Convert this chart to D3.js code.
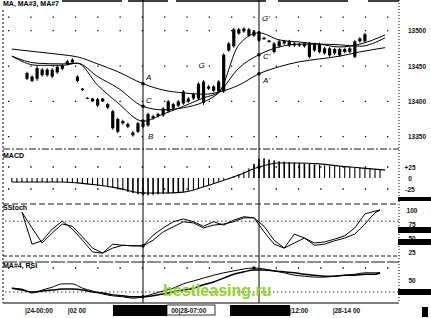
<!DOCTYPE html>
<html>
<head>
<meta charset="utf-8">
<script src="https://cdn.jsdelivr.net/npm/d3@7"></script>
<style>
  html, body { margin: 0; padding: 0; background: #fff; }
  svg { display: block; font-family: "Liberation Sans", Arial, sans-serif; }
  .lbl { font-size: 7px; font-weight: bold; fill: #000; }
  .ax text { font-size: 6.5px; font-weight: bold; fill: #111; }
  .note { font-size: 8px; fill: #000; font-style: italic; }
</style>
</head>
<body>
<div id="chart"></div>
<script>
// candles (bar index 0..67)
const high  = [13442,13437,13450,13447,13447,13447,13451,13453,13459,13461,
               13437,13419,13406,13405,13405,13405,13398,13388,13377,13374,
               13370,13358,13371,13371,13384,13381,13384,13392,13402,13398,
               13402,13416,13406,13412,13427,13430,13423,13423,13430,13468,
               13484,13504,13504,13505,13504,13501,13498,13491,13487,13484,
               13487,13487,13487,13484,13483,13484,13484,13483,13483,13477,
               13477,13476,13476,13476,13477,13487,13491,13497];
const low   = [13430,13427,13429,13435,13435,13433,13439,13444,13451,13453,
               13427,13415,13403,13399,13392,13399,13389,13360,13355,13367,
               13362,13350,13355,13362,13364,13374,13377,13378,13384,13388,
               13392,13395,13398,13402,13402,13395,13416,13413,13412,13412,
               13470,13476,13494,13497,13491,13491,13484,13487,13483,13468,
               13476,13480,13477,13477,13477,13476,13461,13470,13468,13466,
               13463,13466,13463,13468,13468,13461,13483,13483];
const open  = [13440,13435,13432,13445,13437,13445,13441,13446,13453,13455,
               13435,13418,13405,13404,13403,13404,13396,13386,13375,13372,
               13368,13356,13357,13364,13366,13376,13379,13380,13386,13390,
               13394,13397,13400,13404,13404,13398,13418,13415,13414,13414,
               13472,13478,13496,13499,13502,13499,13496,13490,13486,13482,
               13478,13485,13479,13482,13481,13478,13482,13472,13481,13468,
               13475,13468,13474,13470,13470,13463,13485,13485];
const close = [13432,13429,13447,13437,13445,13435,13449,13451,13457,13459,
               13429,13416,13404,13400,13394,13400,13391,13362,13357,13369,
               13364,13352,13369,13369,13382,13379,13382,13390,13400,13396,
               13400,13414,13404,13410,13425,13428,13421,13421,13428,13466,
               13482,13502,13502,13503,13493,13493,13486,13488,13484,13470,
               13485,13482,13485,13479,13479,13482,13463,13481,13470,13475,
               13465,13474,13465,13474,13475,13485,13489,13495];

// moving averages, read at these bar indices
const maIdx  = [-3, 2, 7, 10, 14, 18, 23, 27, 31, 35, 38, 42, 46, 50, 54, 58, 62, 66, 71];
const maSlow = [13474,13470,13466,13463,13453,13442,13425,13416,13412,13410,13413,13423,13439,13449,13456,13460,13464,13470,13476];
const maMid  = [13464,13454,13453,13454,13435,13419,13393,13388,13391,13399,13412,13447,13466,13477,13481,13481,13480,13478,13490];
const maFast = [13464,13451,13451,13454,13423,13398,13372,13382,13393,13405,13413,13480,13497,13487,13484,13481,13477,13481,13494];

// MACD histogram, one bar per index from -3 to 70
const macdFirst = -3;
const macdBars = [-9,-10,-9,-10,-9,-10,-9,-10,-9,-10,-9,-10,-10,-11,
                  -13,-14,-16,-18,-19,-21,-23,-26,-28,-31,-34,-37,-39,
                  -39,-38,-37,-36,-35,-34,-33,-31,-29,-27,-24,-21,
                  -16,-12,-8,-4,0,4,
                  9,15,22,32,44,45,42,
                  40,38,37,36,35,34,33,32,31,30,29,28,27,27,26,25,24,23,22,21,20,19];
const macdLine = [-9,-9,-9,-11,-16,-23,-34,-34,-32,-20,-9,7,25,34,34,32,27,23,18];

// stochastic and RSI, read every second bar
const oscIdx = [-3,-1,1,3,5,7,9,11,13,15,17,19,21,23,25,27,29,31,33,35,37,39,41,43,45,47,49,51,53,55,57,59,61,63,65,67,69,70];
const stochK = [null,96,39,45,66,80,66,46,25,23,39,37,36,36,55,68,79,84,79,71,79,73,82,88,86,61,39,32,57,50,41,43,48,54,68,93,98,100];
const stochD = [null,96,68,41,59,75,71,52,32,23,32,37,36,36,46,61,70,79,77,68,73,75,79,86,86,71,46,32,41,50,37,39,45,50,57,75,95,100];
const rsi    = [33,31,23,29,35,42,42,33,27,21,17,15,12,15,21,27,33,42,48,54,60,65,69,73,75,73,69,65,60,58,56,56,58,60,62,65,65,65];
const rsiMa  = [33,29,25,27,29,31,31,29,25,23,19,17,15,15,17,21,25,29,33,40,46,54,62,67,71,71,69,67,65,62,60,58,58,60,60,62,62,65];

const markIdx = [23, 46];
const priceTicks = [13500, 13450, 13400, 13350];
const macdTicks = [25, 0, -25];
const stochTicks = [100, 75, 50, 25];
const rsiTicks = [50, 25];
const timeLabels = ["|24-00:00", "|02 00", "00|28-07:00", "|12:00", "|28-14 00"];
const timeIdx = [-0.5, 8, 28.5, 52, 60.5];

const notes = [
  {t: "A",  i: 23, p: 13425, dx: 3,  dy: -4},
  {t: "C",  i: 23, p: 13393, dx: 3,  dy: -3},
  {t: "B",  i: 23, p: 13350, dx: 5,  dy: 2},
  {t: "G",  i: 35, p: 13447, dx: -5, dy: 0},
  {t: "G'", i: 46, p: 13497, dx: 3,  dy: -12},
  {t: "C'", i: 46, p: 13466, dx: 4,  dy: 4},
  {t: "A'", i: 46, p: 13439, dx: 4,  dy: 9}
];

const W = 431, H = 318;
const svg = d3.select("#chart").append("svg").attr("width", W).attr("height", H);

const x  = d3.scaleLinear().domain([0, 46]).range([27, 259]);
const yP = d3.scaleLinear().domain([13350, 13500]).range([136.7, 30.7]);
const yM = d3.scaleLinear().domain([-25, 25]).range([189, 167]);
const yS = d3.scaleLinear().domain([0, 100]).range([266, 210]);
const yR = d3.scaleLinear().domain([0, 100]).range([304, 256]);

const axR = 399;

// dotted grid rows
const dotRow = (y) => svg.append("line").attr("x1", 8).attr("x2", axR - 4)
  .attr("y1", y).attr("y2", y).attr("stroke", "#000").attr("stroke-width", 1.3)
  .attr("stroke-dasharray", "1.3,21");
priceTicks.forEach(p => dotRow(yP(p)));
dotRow(yP(13525) + 4);
[25, -25].forEach(v => dotRow(yM(v)));
dotRow(yR(75));

// stoch 80 level, RSI 25 level
svg.append("line").attr("x1", 5).attr("x2", axR).attr("y1", yS(80)).attr("y2", yS(80))
  .attr("stroke", "#000").attr("stroke-width", 0.8).attr("stroke-dasharray", "1.5,2.5");
svg.append("line").attr("x1", 5).attr("x2", axR).attr("y1", yR(25)).attr("y2", yR(25))
  .attr("stroke", "#000").attr("stroke-width", 0.8).attr("stroke-dasharray", "1.5,2.5");

// frame
svg.append("line").attr("x1", 62).attr("x2", axR).attr("y1", 1).attr("y2", 1)
  .attr("stroke", "#000").attr("stroke-width", 1.4).attr("stroke-dasharray", "60,6,40,8,90,12,70,20");
svg.append("line").attr("x1", 3).attr("x2", 3).attr("y1", 10).attr("y2", 303)
  .attr("stroke", "#000").attr("stroke-width", 1).attr("stroke-dasharray", "2,2");
svg.append("line").attr("x1", axR).attr("x2", axR).attr("y1", 0).attr("y2", 303)
  .attr("stroke", "#000").attr("stroke-width", 1).attr("stroke-dasharray", "1,2");
[[149, "7,2,2,2"], [204, "6,3"], [256, "4,2"], [262, "14,2"]].forEach(([y, dash]) => {
  svg.append("line").attr("x1", 3).attr("x2", axR).attr("y1", y).attr("y2", y)
    .attr("stroke", "#000").attr("stroke-width", 0.9).attr("stroke-dasharray", dash);
});
svg.append("line").attr("x1", 3).attr("x2", axR).attr("y1", 303).attr("y2", 303)
  .attr("stroke", "#000").attr("stroke-width", 1);

// event verticals
markIdx.forEach(i => {
  svg.append("line").attr("x1", x(i)).attr("x2", x(i)).attr("y1", 0).attr("y2", 303)
    .attr("stroke", "#000").attr("stroke-width", 1);
});

// candles
const candles = svg.append("g");
high.forEach((h, i) => {
  candles.append("line").attr("x1", x(i)).attr("x2", x(i))
    .attr("y1", yP(h)).attr("y2", yP(low[i])).attr("stroke", "#000").attr("stroke-width", 1);
  const top = yP(Math.max(open[i], close[i])), bot = yP(Math.min(open[i], close[i]));
  candles.append("rect").attr("x", x(i) - 1.6).attr("width", 3.2)
    .attr("y", top).attr("height", Math.max(1, bot - top)).attr("fill", "#000");
});

// moving averages
const maLine = d3.line().curve(d3.curveMonotoneX).x((d, i) => x(maIdx[i])).y(d => yP(d));
[maSlow, maMid, maFast].forEach(s => {
  svg.append("path").attr("d", maLine(s)).attr("fill", "none")
    .attr("stroke", "#000").attr("stroke-width", 1);
});

// MACD
const macd = svg.append("g");
macdBars.forEach((v, k) => {
  const i = macdFirst + k;
  macd.append("line").attr("x1", x(i)).attr("x2", x(i))
    .attr("y1", yM(0)).attr("y2", yM(v) + (v === 0 ? 1 : 0))
    .attr("stroke", "#000").attr("stroke-width", Math.abs(v) > 30 ? 1.6 : 1.1);
});
svg.append("path")
  .attr("d", d3.line().curve(d3.curveMonotoneX).x((d, i) => x(maIdx[i])).y(d => yM(d))(macdLine))
  .attr("fill", "none").attr("stroke", "#000").attr("stroke-width", 1.1);

// stochastic
const oscLine = (ys) => d3.line().defined(d => d !== null).x((d, i) => x(oscIdx[i])).y(d => ys(d));
[stochK, stochD].forEach(s => {
  svg.append("path").attr("d", oscLine(yS)(s)).attr("fill", "none")
    .attr("stroke", "#000").attr("stroke-width", 1);
});

// RSI
[rsi, rsiMa].forEach((s, k) => {
  svg.append("path").attr("d", oscLine(yR).curve(d3.curveMonotoneX)(s)).attr("fill", "none")
    .attr("stroke", "#000").attr("stroke-width", k ? 1.5 : 1);
});

// crossing dots on the verticals
const dots = [];
[maSlow, maMid, maFast].forEach(s => markIdx.forEach(m => dots.push([x(m), yP(s[maIdx.indexOf(m)])])));
markIdx.forEach(m => dots.push([x(m), yM(macdLine[maIdx.indexOf(m)])]));
dots.push([x(23), yS(stochK[oscIdx.indexOf(23)])]);
dots.push([x(23), yR(rsi[oscIdx.indexOf(23)])]);
dots.push([x(45), yR(rsi[oscIdx.indexOf(45)])]);
svg.append("g").selectAll("circle").data(dots).join("circle")
  .attr("cx", d => d[0]).attr("cy", d => d[1]).attr("r", 1.8).attr("fill", "#000");

// annotations
notes.forEach(n => {
  svg.append("text").attr("class", "note")
    .attr("x", x(n.i) + n.dx).attr("y", yP(n.p) + n.dy).text(n.t);
});

// panel titles
svg.append("text").attr("class", "lbl").attr("x", 3).attr("y", 6).text("MA, MA#3, MA#7");
svg.append("text").attr("class", "lbl").attr("x", 3).attr("y", 158).text("MACD");
svg.append("text").attr("class", "lbl").attr("x", 3).attr("y", 210).text("SStoch");
svg.append("text").attr("class", "lbl").attr("x", 3).attr("y", 268).text("MA#4, RSI");

// right axes
const rAxis = (scale, ticks, fmt, pad, anchor) => {
  svg.append("g").attr("class", "ax").attr("transform", `translate(${axR},0)`)
    .call(d3.axisRight(scale).tickValues(ticks).tickSize(0).tickPadding(pad).tickFormat(fmt))
    .call(g => g.select(".domain").remove())
    .call(g => g.selectAll("text").attr("text-anchor", anchor));
};
rAxis(yP, priceTicks, d => d, 9, "start");
rAxis(yM, macdTicks, d => d > 0 ? "+" + d : d, 11, "middle");
rAxis(yS, stochTicks, d => d, 13, "middle");
rAxis(yR, rsiTicks, d => d, 13, "middle");

// time axis
svg.append("g").attr("class", "ax").attr("transform", "translate(0,306)")
  .call(d3.axisBottom(x).tickValues(timeIdx).tickSize(0).tickPadding(2)
    .tickFormat((d, i) => timeLabels[i]))
  .call(g => g.select(".domain").remove())
  .call(g => g.selectAll("text").attr("text-anchor", "start"));

// scan blots
const blots = [[113, 305, 54, 11], [230, 305, 60, 11], [422, 307, 6, 10],
               [398, 197, 33, 4], [398, 227, 33, 6], [398, 239, 33, 6], [398, 289, 33, 6]];
svg.append("g").selectAll("rect").data(blots).join("rect")
  .attr("x", d => d[0]).attr("y", d => d[1]).attr("width", d => d[2]).attr("height", d => d[3])
  .attr("fill", "#000");
svg.append("rect").attr("x", 167).attr("y", 305).attr("width", 48).attr("height", 10)
  .attr("fill", "none").attr("stroke", "#000").attr("stroke-width", 0.8);

// watermark
svg.append("text").attr("x", 163).attr("y", 296)
  .attr("font-size", 16).attr("font-weight", "bold").attr("fill", "#8ed42a")
  .text("bestleasing.ru");
</script>
</body>
</html>
